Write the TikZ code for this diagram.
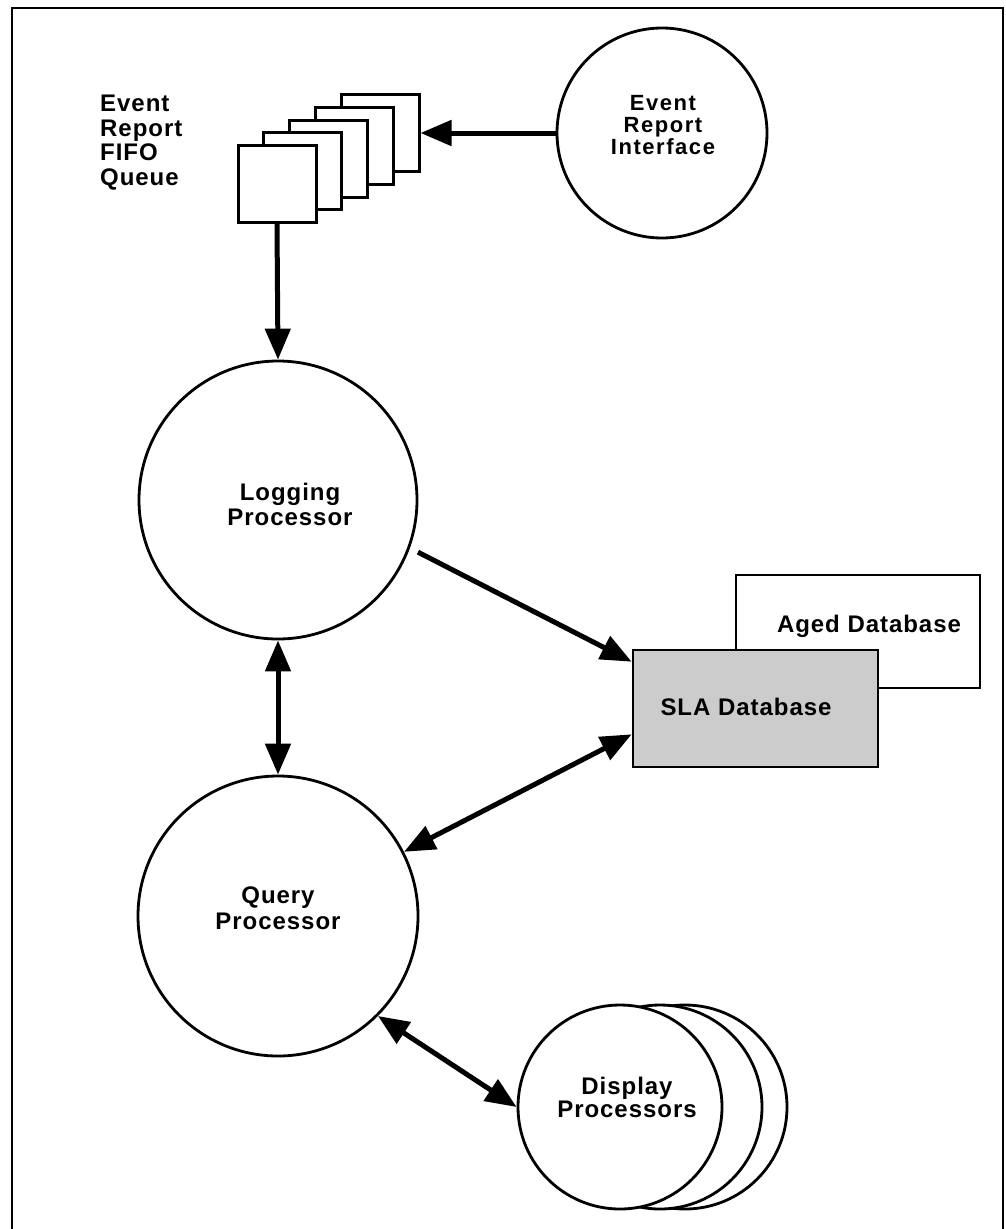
\documentclass[tikz,border=0pt]{standalone}
\usepackage{fontspec}
\setmainfont{Liberation Sans}[LetterSpace=4]
\usetikzlibrary{arrows.meta}
\begin{document}
\begin{tikzpicture}[x=1pt,y=-1pt,
  proc/.style={circle, draw, line width=2.8pt, fill=white, minimum size=#1, inner sep=0pt},
  qbox/.style={draw, fill=white, line width=3pt, minimum width=78pt, minimum height=77pt, inner sep=0pt},
  dbox/.style={draw, line width=2.6pt, inner sep=0pt},
  lbl/.style={inner sep=0pt, anchor=north, align=center, font=\bfseries\fontsize{24}{#1}\selectfont},
  arr/.style={line width=5pt, -{Triangle[length=31pt,width=25pt]}},
  dbl/.style={line width=5pt, {Triangle[length=31pt,width=25pt]}-{Triangle[length=31pt,width=25pt]}}
]
\useasboundingbox (0,0) rectangle (1006,1229);
\clip (0,0) rectangle (1006,1229);

% outer frame (runs past the bottom edge)
\draw[line width=2.4pt] (12,1240) -- (12,8) -- (1003,8) -- (1003,1240);

% FIFO queue: stacked sheets, back to front
\node[qbox] (q5) at (380,133) {};
\node[qbox] (q4) at (354.25,145.75) {};
\node[qbox] (q3) at (328.5,158.5) {};
\node[qbox] (q2) at (302.75,171.25) {};
\node[qbox] (q1) at (277,184) {};
\node[lbl=24.5, anchor=north west, align=left] (qlbl) at (100,95) {Event\\Report\\FIFO\\Queue};

% event report interface
\node[proc=210pt] (eri) at (662,133) {};
\node[lbl=22, font=\bfseries\fontsize{22}{22}\selectfont\addfontfeatures{LetterSpace=7}] (eritxt) at (663,95) {Event\\Report\\Interface};

% logging and query processors
\node[proc=278pt] (log) at (278,500) {};
\node[lbl=25] (logtxt) at (290,483) {Logging\\Processor};
\node[proc=280pt] (qry) at (278,916) {};
\node[lbl=26] (qrytxt) at (278,887) {Query\\Processor};

% databases
\node[dbox, fill=white, minimum width=244pt, minimum height=113pt] (aged) at (858,631.5) {};
\node[lbl=22] (agedtxt) at (869,615) {Aged Database};
\node[dbox, fill=black!20, minimum width=245pt, minimum height=117pt] (sla) at (755.5,708.5) {};
\node[lbl=22] (slatxt) at (746,698) {SLA Database};

% display processors: stacked discs, back to front
\node[proc=204pt] (d3) at (685,1107) {};
\node[proc=204pt] (d2) at (660,1107) {};
\node[proc=204pt] (disp) at (620,1107) {};
\node[lbl=23] (disptxt) at (627,1077) {Display\\Processors};

% connectors
\draw[arr] (eri.west) -- (q5.east);
\draw[arr] (q1.south) -- (log.north);
\draw[dbl] (log.south) -- (qry.north);
\draw[arr, shorten <=9pt] (log.-20) -- ([yshift=-13pt]sla.north west);
\draw[dbl] (qry.27) -- ([yshift=34pt]sla.south west);
\draw[dbl] (qry.-45) -- (disp.west);
\end{tikzpicture}
\end{document}
